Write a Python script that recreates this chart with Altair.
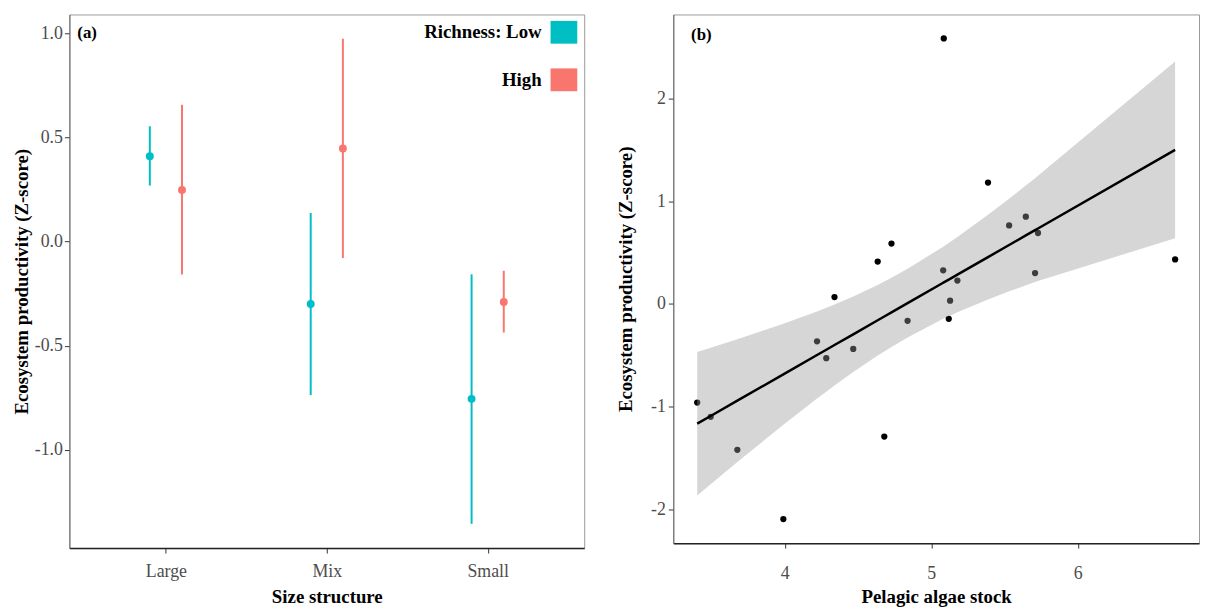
import json
import altair as alt
import pandas as pd

# ---------------- Panel (a) data ----------------
size_cats = ["Large", "Mix", "Small"]
richness_levels = ["Low", "High"]
richness_colors = ["#00BFC4", "#F8766D"]
legend_labels = ["Richness: Low", "High"]

a_size = ["Large", "Large", "Mix", "Mix", "Small", "Small"]
a_richness = ["Low", "High", "Low", "High", "Low", "High"]
a_mean = [0.411, 0.249, -0.300, 0.448, -0.756, -0.290]
a_lower = [0.270, -0.158, -0.738, -0.079, -1.357, -0.437]
a_upper = [0.555, 0.659, 0.138, 0.976, -0.157, -0.140]
a_yticks = [-1.0, -0.5, 0.0, 0.5, 1.0]

# ---------------- Panel (b) data ----------------
b_algae = [3.402, 3.494, 3.676, 3.990, 4.220, 4.283, 4.339, 4.467, 4.634, 4.679,
           4.728, 4.838, 5.081, 5.085, 5.119, 5.128, 5.178, 5.387, 5.531, 5.645,
           5.708, 5.728, 6.664]
b_prod = [-0.958, -1.096, -1.417, -2.090, -0.362, -0.526, 0.067, -0.436, 0.413, -1.288,
          0.587, -0.163, 0.327, 2.580, -0.144, 0.032, 0.228, 1.180, 0.763, 0.849,
          0.301, 0.690, 0.433]
b_xticks = [4, 5, 6]
b_yticks = [-2, -1, 0, 1, 2]
T_975_DF21 = 2.0796  # t quantile for 95% CI of a linear fit with n=23


def expand(lo, hi, f=0.05):
    r = hi - lo
    return [lo - f * r, hi + f * r]


FONT = "Liberation Serif"
LABEL_COLOR = "#4d4d4d"
minus_fix = "replace(format(datum.value, '{fmt}'), '\u2212', '-')"

# ---------------- Panel (a) ----------------
df_a = pd.DataFrame({"size": a_size, "rich": a_richness, "mean": a_mean,
                     "lo": a_lower, "hi": a_upper})
pos_expr = ("indexof(" + json.dumps(size_cats) + ", datum.size) + 1 + "
            "(datum.rich == 'Low' ? -0.1 : 0.1)")

xa = alt.X("pos:Q",
           scale=alt.Scale(domain=[0.4, 3.6], nice=False, zero=False),
           axis=alt.Axis(values=[1, 2, 3],
                         labelExpr=json.dumps([""] + size_cats) + "[datum.value]",
                         title="Size structure", grid=False,
                         tickSize=5, labelPadding=9.5, minExtent=33, maxExtent=33,
                         titlePadding=6.5, domainColor="#222222", domainWidth=1.5,
                         tickColor="#333333"))
ya_scale = alt.Scale(domain=expand(min(a_lower), max(a_upper)), nice=False, zero=False)
ya_axis = alt.Axis(values=a_yticks, labelExpr=minus_fix.format(fmt=".1f"),
                   title="Ecosystem productivity (Z-score)", grid=False,
                   tickSize=5, labelPadding=2, minExtent=36, maxExtent=36,
                   titlePadding=2.2, domainColor="#666666", tickColor="#333333")
color_a = alt.Color("rich:N", scale=alt.Scale(domain=richness_levels, range=richness_colors),
                    legend=None)

base_a = alt.Chart(df_a).transform_calculate(pos=pos_expr)
bars_a = base_a.mark_rule(strokeWidth=2).encode(
    x=xa, y=alt.Y("lo:Q", scale=ya_scale, axis=ya_axis), y2="hi:Q", color=color_a)
pts_a = base_a.mark_circle(size=64, opacity=1).encode(
    x=xa, y=alt.Y("mean:Q", scale=ya_scale, axis=ya_axis), color=color_a)

tag_a = alt.Chart(pd.DataFrame({"t": ["(a)"]})).mark_text(
    align="left", baseline="middle", fontSize=17, fontWeight="bold", color="black"
).encode(x=alt.value(8), y=alt.value(19), text="t:N")

legend_layers = []
for i, (lab, col) in enumerate(zip(legend_labels, richness_colors)):
    yc = 18 + 48 * i
    legend_layers.append(
        alt.Chart(pd.DataFrame({"t": [lab]})).mark_text(
            align="right", baseline="middle", fontSize=19, fontWeight="bold", color="black"
        ).encode(x=alt.value(477), y=alt.value(yc), text="t:N"))
    legend_layers.append(
        alt.Chart(pd.DataFrame({"t": [lab]})).mark_rect(color=col).encode(
            x=alt.value(486), x2=alt.value(513), y=alt.value(yc - 11.5), y2=alt.value(yc + 11.5)))

panel_a = alt.layer(bars_a, pts_a, tag_a, *legend_layers).properties(width=520, height=539)

# ---------------- Panel (b) ----------------
df_b = pd.DataFrame({"x": b_algae, "y": b_prod})
xb = alt.X("x:Q", scale=alt.Scale(domain=expand(min(b_algae), max(b_algae)), nice=False, zero=False),
           axis=alt.Axis(values=b_xticks, title="Pelagic algae stock", grid=False,
                         tickSize=5, labelPadding=16.5, minExtent=40, maxExtent=40,
                         titlePadding=4.5, domainColor="#222222", domainWidth=1.5,
                         tickColor="#333333"))
yb_scale = alt.Scale(domain=expand(min(b_prod), max(b_prod)), nice=False, zero=False)
yb_axis = alt.Axis(values=b_yticks, labelExpr=minus_fix.format(fmt="d"),
                   title="Ecosystem productivity (Z-score)", grid=False,
                   tickSize=5, labelPadding=3, minExtent=24, maxExtent=24,
                   titlePadding=14, domainColor="#666666", tickColor="#333333")

pts_b = alt.Chart(df_b).mark_circle(size=40, color="black", opacity=1).encode(
    x=xb, y=alt.Y("y:Q", scale=yb_scale, axis=yb_axis))

fit_b = (alt.Chart(df_b)
         .transform_joinaggregate(mx="mean(x)", my="mean(y)", n="count()")
         .transform_calculate(dxx="(datum.x - datum.mx) * (datum.x - datum.mx)")
         .transform_calculate(dxy="(datum.x - datum.mx) * (datum.y - datum.my)")
         .transform_joinaggregate(sxx="sum(dxx)", sxy="sum(dxy)")
         .transform_calculate(fit="datum.my + datum.sxy / datum.sxx * (datum.x - datum.mx)")
         .transform_calculate(r2="(datum.y - datum.fit) * (datum.y - datum.fit)")
         .transform_joinaggregate(sse="sum(r2)")
         .transform_calculate(se="sqrt(datum.sse / (datum.n - 2)) * sqrt(1 / datum.n + datum.dxx / datum.sxx)")
         .transform_calculate(lo="datum.fit - %f * datum.se" % T_975_DF21)
         .transform_calculate(hi="datum.fit + %f * datum.se" % T_975_DF21))

band_b = fit_b.mark_area(color="#999999", opacity=0.4).encode(
    x=xb, y=alt.Y("lo:Q", scale=yb_scale, axis=yb_axis), y2="hi:Q")
line_b = fit_b.mark_line(color="black", strokeWidth=2.5).encode(
    x=xb, y=alt.Y("fit:Q", scale=yb_scale, axis=yb_axis))

tag_b = alt.Chart(pd.DataFrame({"t": ["(b)"]})).mark_text(
    align="left", baseline="middle", fontSize=17, fontWeight="bold", color="black"
).encode(x=alt.value(18), y=alt.value(21), text="t:N")

panel_b = alt.layer(pts_b, band_b, line_b, tag_b).properties(width=531, height=534)

chart = (alt.hconcat(panel_a, panel_b, spacing=31)
         .properties(padding={"left": 4, "top": 2.5, "right": 0, "bottom": 0})
         .configure(font=FONT)
         .configure_view(stroke="#9a9a9a", strokeWidth=1)
         .configure_axis(labelFont=FONT, labelFontSize=18, labelColor=LABEL_COLOR,
                         titleFont=FONT, titleFontSize=19, titleFontWeight="bold",
                         titleColor="black"))

chart.save("out.html", embed_options={"renderer": "svg", "actions": False})
